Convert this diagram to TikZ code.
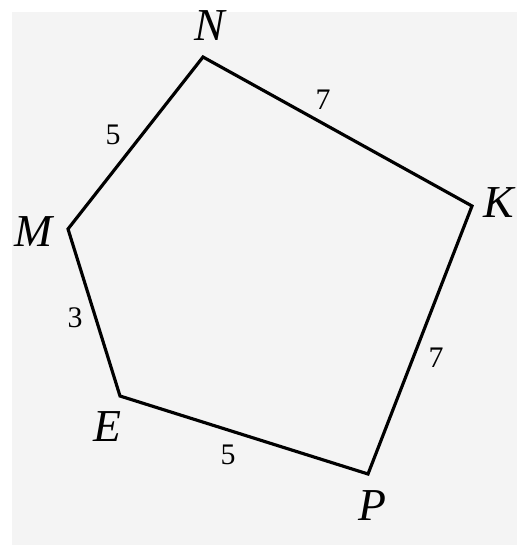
\documentclass[tikz,border=0pt]{standalone}
\usepackage{fontspec}
\setmainfont{Liberation Serif}
\definecolor{paper}{HTML}{F4F4F4}
\begin{document}
\begin{tikzpicture}[x=0.02cm,y=-0.02cm,
    vlab/.style={font=\fontsize{26}{30}\selectfont\itshape},
    slab/.style={font=\fontsize{17}{20}\selectfont}]
        \useasboundingbox(0,0)rectangle(521,553);
        \fill[paper](12,12)rectangle(517,545);
        \coordinate(N)at(203,57);
        \coordinate(K)at(472,206);
        \coordinate(P)at(368,474);
        \coordinate(E)at(120,396);
        \coordinate(M)at(68,229);
        \draw[line width=1.8pt](N)--(K)--(P)--(E)--(M)--cycle;
        \node[vlab](lN)at(210,26){N};
        \node[vlab](lK)at(499,203){K};
        \node[vlab](lP)at(372,506){P};
        \node[vlab](lE)at(107,427){E};
        \node[vlab](lM)at(34,232){M};
        \node[slab](sMN)at(113,135){5};
        \node[slab](sNK)at(323,100){7};
        \node[slab](sKP)at(436,358){7};
        \node[slab](sEP)at(228,455){5};
        \node[slab](sME)at(75,318){3};
    \end{tikzpicture}
\end{document}
